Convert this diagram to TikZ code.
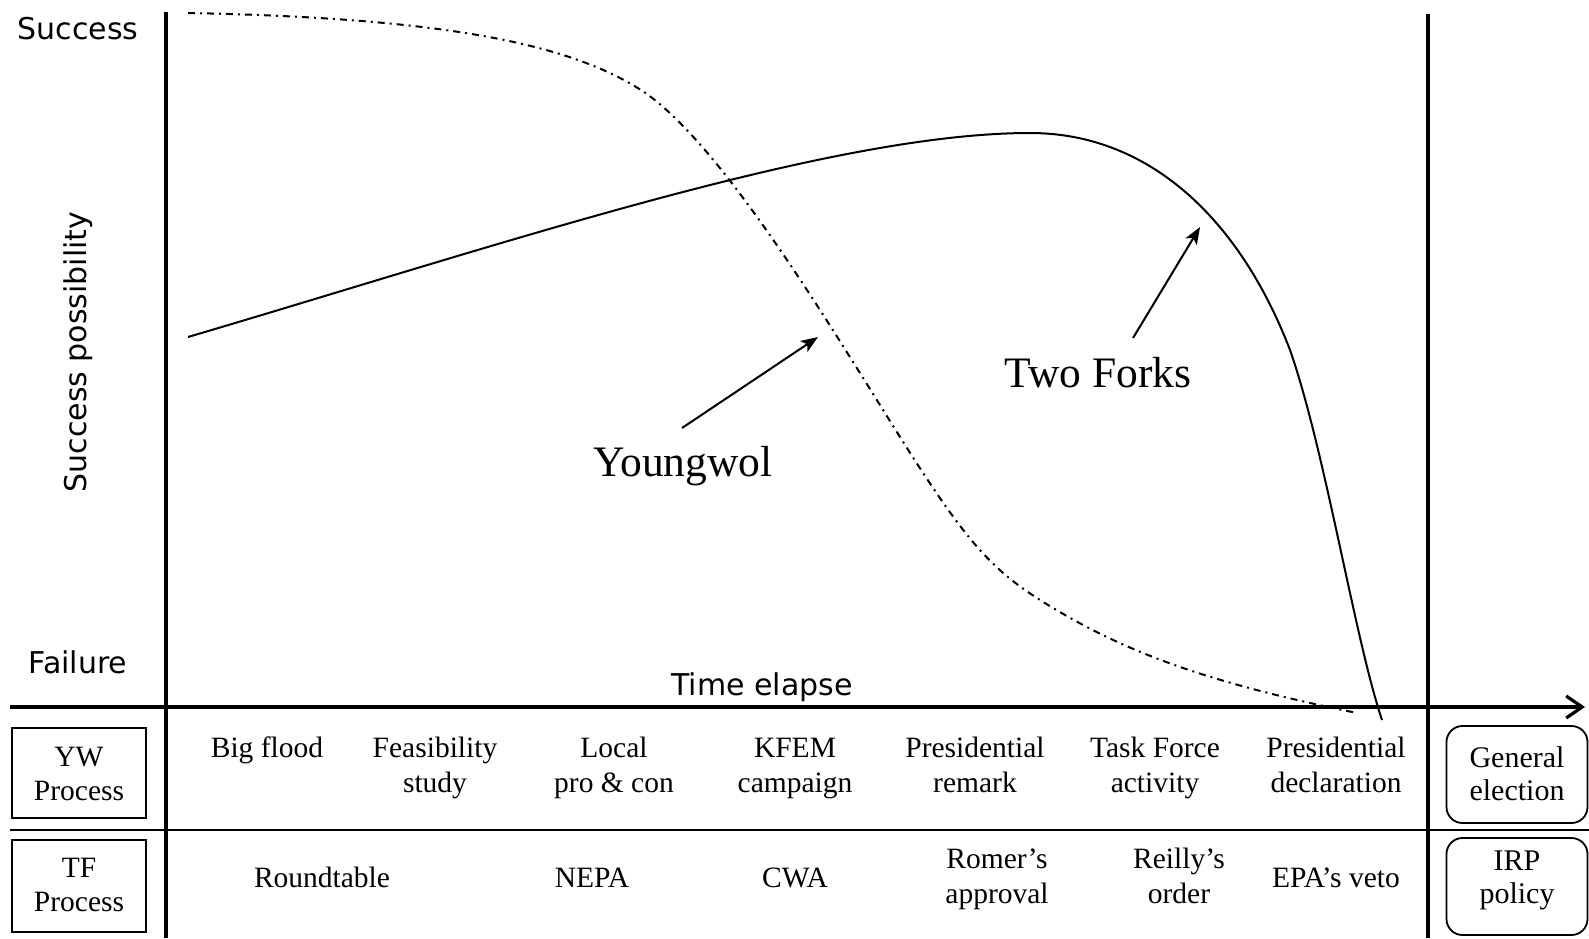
\documentclass[tikz,border=0pt]{standalone}
\usepackage{fontspec}
\setmainfont{Liberation Serif}
\newfontfamily\labelsans{DejaVu Sans}
\usetikzlibrary{arrows.meta}
% two centred lines whose reference point is the first baseline
\newcommand{\twoline}[2]{\begin{tabular}[t]{@{}c@{}}#1\\#2\end{tabular}}

\begin{document}
\begin{tikzpicture}[x=1pt, y=-1pt,
  axis/.style={line width=3.2pt},
  rowrule/.style={line width=2pt},
  tfcurve/.style={line width=2pt},
  ywcurve/.style={line width=2pt, dash pattern=on 7pt off 5pt on 2pt off 5pt},
  pointer/.style={line width=2pt, -{Stealth[length=17pt,width=13pt,inset=4pt]}},
  sanslabel/.style={font=\labelsans\fontsize{30}{36}\selectfont, inner sep=0pt},
  event/.style={font=\fontsize{29.5}{35}\selectfont, inner sep=0pt, anchor=base},
  curvelabel/.style={font=\fontsize{43.5}{50}\selectfont, inner sep=0pt, anchor=base},
  procbox/.style={draw, line width=1.8pt, minimum width=134pt, minimum height=90pt, inner sep=0pt},
  outcomebox/.style={draw, line width=1.8pt, rounded corners=16pt, minimum width=141pt, minimum height=97pt, inner sep=0pt},
]
\useasboundingbox (0,0) rectangle (1589,938);

% frame coordinates
\coordinate (xleft) at (10,707);
\coordinate (xright) at (1585,707);
\coordinate (yltop) at (166,12);
\coordinate (ylbot) at (166,938);
\coordinate (yrtop) at (1428,14);
\coordinate (yrbot) at (1428,938);
\coordinate (rowleft) at (10,830);
\coordinate (rowright) at (1589,830);

% axes and table rules
\draw[axis] (yltop) -- (ylbot);
\draw[axis] (yrtop) -- (yrbot);
\draw[axis, -{Straight Barb[length=16pt,width=22pt]}] (xleft) -- (xright);
\draw[rowrule] (rowleft) -- (rowright);

% axis labels
\node[sanslabel, anchor=base] (success) at (78,39) {Success};
\node[sanslabel, anchor=base] (failure) at (78,673) {Failure};
\node[sanslabel, rotate=90] (ylabel) at (78,352) {Success possibility};
\node[sanslabel, anchor=base] (xlabel) at (762,695) {Time elapse};

% Youngwol curve (dash-dot)
\coordinate (yw0) at (188,13);
\coordinate (yw1) at (641,90);
\coordinate (yw2) at (900,437);
\coordinate (yw3) at (1040,600);
\coordinate (yw4) at (1357,713);
\draw[ywcurve] (yw0) .. controls (450,18) and (570,45) .. (yw1)
  .. controls (721,142) and (830,326) .. (yw2)
  .. controls (965,540) and (990,568) .. (yw3)
  .. controls (1120,650) and (1200,681) .. (yw4);

% Two Forks curve (solid)
\coordinate (tf0) at (188,337);
\coordinate (tf1) at (1030,133);
\coordinate (tf2) at (1290,350);
\coordinate (tf3) at (1382,720);
\draw[tfcurve] (tf0) .. controls (500,245) and (830,133) .. (tf1)
  .. controls (1150,133) and (1240,220) .. (tf2)
  .. controls (1325,450) and (1355,640) .. (tf3);

% curve labels and pointers
\node[curvelabel] (ywname) at (683,476) {Youngwol};
\node[curvelabel] (tfname) at (1098,387) {Two Forks};
\coordinate (ywtail) at (682,428);
\coordinate (ywtip) at (818,337);
\coordinate (tftail) at (1133,338);
\coordinate (tftip) at (1200,227);
\draw[pointer] (ywtail) -- (ywtip);
\draw[pointer] (tftail) -- (tftip);

% row headers
\node[procbox] (ywbox) at (79,773) {};
\node[event, font=\fontsize{29.5}{34}\selectfont] (ywhead) at (79,766) {\twoline{YW}{Process}};
\node[procbox, minimum height=92pt] (tfbox) at (79,886) {};
\node[event, font=\fontsize{29.5}{34}\selectfont] (tfhead) at (79,877) {\twoline{TF}{Process}};

% Youngwol process events
\node[event] (ev1) at (267,757) {Big flood};
\node[event] (ev2) at (435,757) {\twoline{Feasibility}{study}};
\node[event] (ev3) at (614,757) {\twoline{Local}{pro \& con}};
\node[event] (ev4) at (795,757) {\twoline{KFEM}{campaign}};
\node[event] (ev5) at (975,757) {\twoline{Presidential}{remark}};
\node[event] (ev6) at (1155,757) {\twoline{Task Force}{activity}};
\node[event] (ev7) at (1336,757) {\twoline{Presidential}{declaration}};

% Two Forks process events
\node[event] (tv1) at (322,887) {Roundtable};
\node[event] (tv2) at (592,887) {NEPA};
\node[event] (tv3) at (795,887) {CWA};
\node[event] (tv4) at (997,868) {\twoline{Romer’s}{approval}};
\node[event] (tv5) at (1179,868) {\twoline{Reilly’s}{order}};
\node[event] (tv6) at (1336,887) {EPA’s veto};

% outcomes
\node[outcomebox] (ywout) at (1517,774.5) {};
\node[event, font=\fontsize{30}{33}\selectfont] (ywoutlabel) at (1517,767) {\twoline{General}{election}};
\node[outcomebox] (tfout) at (1517,886.5) {};
\node[event, font=\fontsize{30}{33}\selectfont] (tfoutlabel) at (1517,870) {\twoline{IRP}{policy}};
\end{tikzpicture}
\end{document}
